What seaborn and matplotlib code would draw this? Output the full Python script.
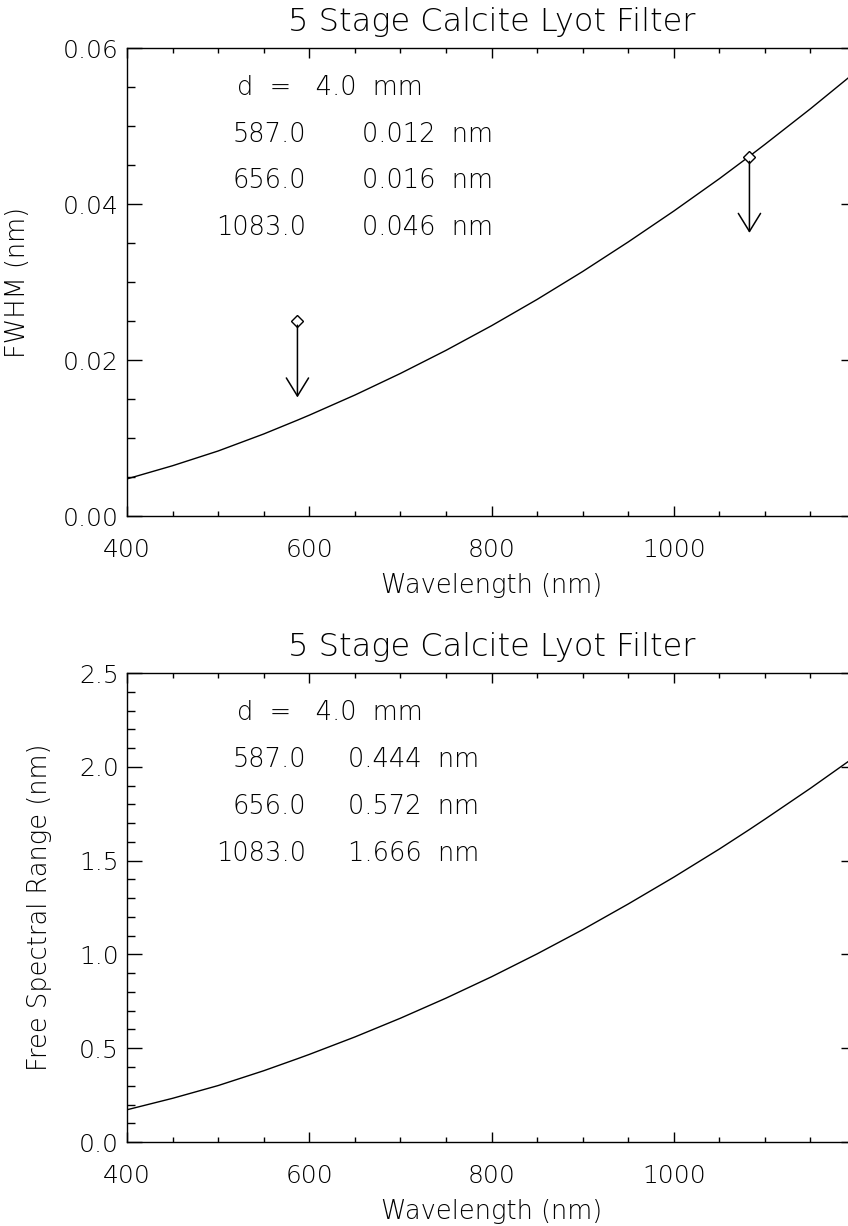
import matplotlib
matplotlib.use("Agg")
import matplotlib.pyplot as plt
from matplotlib.ticker import MultipleLocator, FormatStrFormatter
import pandas as pd
import seaborn as sns

# values
wavelength = [400, 450, 500, 550, 587, 600, 650, 656, 700, 750, 800, 850,
              900, 950, 1000, 1050, 1083, 1100, 1150, 1200]
fwhm = [0.00476, 0.00645, 0.00834, 0.01052, 0.01229, 0.01293, 0.01551, 0.01584,
        0.01828, 0.02124, 0.02440, 0.02777, 0.03135, 0.03514, 0.03910, 0.04325,
        0.04613, 0.04765, 0.05222, 0.05699]
fsr = [0.172, 0.233, 0.301, 0.380, 0.444, 0.467, 0.560, 0.572, 0.660, 0.767,
       0.881, 1.003, 1.132, 1.269, 1.412, 1.562, 1.666, 1.721, 1.886, 2.058]

# marked lines and their values
line_wl = ["587.0", "656.0", "1083.0"]
fwhm_txt = ["0.012", "0.016", "0.046"]
fsr_txt = ["0.444", "0.572", "1.666"]
thick_mm = 4.0

# arrows in the FWHM panel
arrow_wl = [587.0, 1083.0]
arrow_top = [0.025, 0.046]
arrow_tip = [0.0152, 0.0363]

title = "5 Stage Calcite Lyot Filter"

sns.set_theme(style="ticks")
plt.rcParams["font.family"] = ["DejaVu Sans"]
plt.rcParams["font.weight"] = "light"
plt.rcParams["text.color"] = "black"
plt.rcParams["axes.labelcolor"] = "black"
plt.rcParams["axes.titleweight"] = "light"
plt.rcParams["axes.labelweight"] = "light"
plt.rcParams["xtick.color"] = "black"
plt.rcParams["ytick.color"] = "black"

df = pd.DataFrame({"wl": wavelength, "fwhm": fwhm, "fsr": fsr})

fig = plt.figure(figsize=(8.48, 12.26), dpi=100)
ax1 = fig.add_axes([0.1498, 0.5791, 0.8597, 0.3817])
ax2 = fig.add_axes([0.1498, 0.0685, 0.8597, 0.3825])

panels = [
    (ax1, "fwhm", "FWHM (nm)", 0.06, 0.02, 0.005, "%.2f", fwhm_txt, 0.322, -0.133),
    (ax2, "fsr", "Free Spectral Range (nm)", 2.5, 0.5, 0.1, "%.1f", fsr_txt, 0.303, -0.103),
]

for ax, col, ylab, ymax, ymaj, ymin, fmt, vals, xval, ylx in panels:
    sns.lineplot(data=df, x="wl", y=col, ax=ax, color="black", lw=1.0)
    ax.set_xlim(400, 1200)
    ax.set_ylim(0, ymax)
    ax.set_xticks([400, 600, 800, 1000])
    ax.xaxis.set_minor_locator(MultipleLocator(50))
    ax.yaxis.set_major_locator(MultipleLocator(ymaj))
    ax.yaxis.set_minor_locator(MultipleLocator(ymin))
    ax.yaxis.set_major_formatter(FormatStrFormatter(fmt))
    ax.tick_params(axis="both", which="both", direction="in", top=True,
                   right=True, width=1.0, labelsize=18)
    ax.tick_params(axis="x", which="major", length=7, pad=15.5)
    ax.tick_params(axis="x", which="minor", length=3.6)
    ax.tick_params(axis="y", which="major", length=10.8, pad=6)
    ax.tick_params(axis="y", which="minor", length=5.5)
    for s in ax.spines.values():
        s.set_color("black")
        s.set_linewidth(1.0)
    ax.set_xlabel("Wavelength (nm)", fontsize=18.5, labelpad=8)
    ax.set_ylabel(ylab, fontsize=18.5)
    ax.yaxis.set_label_coords(ylx, 0.5)
    ax.set_title(title, fontsize=23, pad=12)

    ax.text(0.151, 0.9, "d  =   %.1f  mm" % thick_mm, transform=ax.transAxes,
            fontsize=18.5, ha="left", va="baseline")
    for i, (w, v) in enumerate(zip(line_wl, vals)):
        yy = 0.8 - 0.1 * i
        ax.text(0.246, yy, w, transform=ax.transAxes, fontsize=18.5,
                ha="right", va="baseline")
        ax.text(xval, yy, v + "  nm", transform=ax.transAxes, fontsize=18.5,
                ha="left", va="baseline")

ax1.plot(arrow_wl, arrow_top, "D", mfc="white", mec="black", ms=6, mew=1.0)
for x, y0, y1 in zip(arrow_wl, arrow_top, arrow_tip):
    ax1.annotate("", xy=(x, y1), xytext=(x, y0),
                 arrowprops=dict(arrowstyle="->,head_length=1.3,head_width=0.8",
                                 color="black", lw=1.1, shrinkA=3, shrinkB=0,
                                 mutation_scale=10))

fig.savefig("out.png", dpi=100)
